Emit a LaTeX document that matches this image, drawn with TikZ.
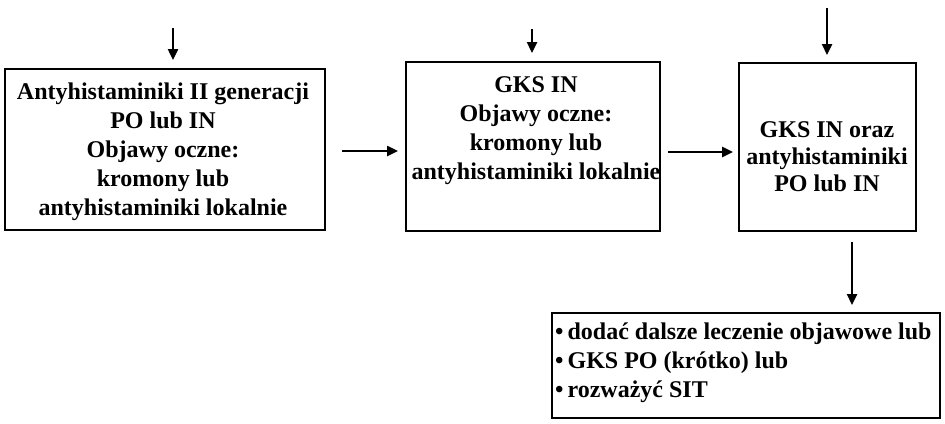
\documentclass[tikz,border=0pt]{standalone}
\usepackage{fontspec}
\setmainfont{Liberation Serif}
\usetikzlibrary{arrows.meta}
\tikzset{
  boxx/.style={draw=black, line width=2pt, rectangle, inner sep=0pt},
  txt/.style={font=\bfseries\fontsize{24}{29}\selectfont, align=center, inner sep=0pt},
  arr/.style={line width=2.4pt, -{Triangle[length=11pt,width=10pt]}}
}
\begin{document}
\begin{tikzpicture}[x=1pt,y=-1pt]
\useasboundingbox (0,0) rectangle (945,423);
% boxes
\node[boxx, minimum width=320pt, minimum height=161pt] (b1) at (165,149.5) {};
\node[boxx, minimum width=254pt, minimum height=169pt] (b2) at (533,146.5) {};
\node[boxx, minimum width=177pt, minimum height=168pt] (b3) at (827.5,147) {};
\node[boxx, minimum width=388pt, minimum height=105pt] (b4) at (746,365.5) {};
% texts
\node[txt] (t1) at (163,152) {Antyhistaminiki II generacji\\PO lub IN\\Objawy oczne:\\kromony lub\\antyhistaminiki lokalnie};
\node[txt] (t2) at (536,131) {GKS IN\\Objawy oczne:\\kromony lub\\antyhistaminiki lokalnie};
\node[txt, font=\bfseries\fontsize{24}{27}\selectfont] (t3) at (827,157) {GKS IN oraz\\antyhistaminiki\\PO lub IN};
\node[txt, align=left, anchor=west] (t4) at (555,363) {\textbullet\,dodać dalsze leczenie objawowe lub\\\textbullet\,GKS PO (krótko) lub\\\textbullet\,rozważyć SIT};
% free arrow ends
\coordinate (s1) at (173,28);
\coordinate (e1) at (173,60);
\coordinate (s2) at (532,29);
\coordinate (e2) at (532,53);
\coordinate (s3) at (827,8);
\coordinate (e3) at (827,55);
\coordinate (h1s) at (342,151);
\coordinate (h1e) at (398,151);
\coordinate (h2s) at (668,152);
\coordinate (h2e) at (733,152);
\coordinate (d1s) at (852,242);
\coordinate (d1e) at (852,305);
\draw[arr] (s1) -- (e1);
\draw[arr] (s2) -- (e2);
\draw[arr] (s3) -- (e3);
\draw[arr] (h1s) -- (h1e);
\draw[arr] (h2s) -- (h2e);
\draw[arr] (d1s) -- (d1e);
\end{tikzpicture}
\end{document}
